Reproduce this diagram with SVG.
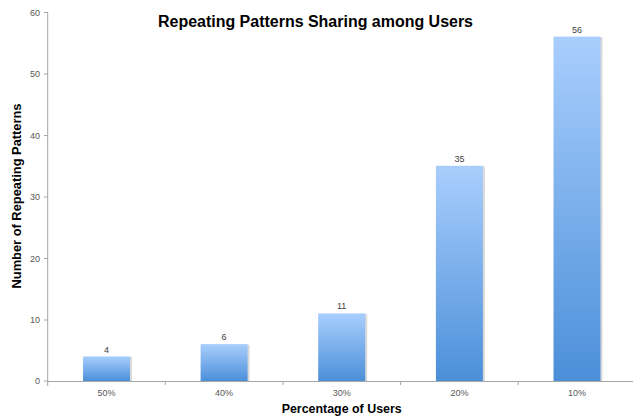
<svg xmlns="http://www.w3.org/2000/svg" width="633" height="418" viewBox="0 0 633 418">
<defs>
<linearGradient id="barGrad" x1="0" y1="0" x2="0" y2="1">
<stop offset="0" stop-color="#A9CEFD"/>
<stop offset="1" stop-color="#4B8FD9"/>
</linearGradient>
<style>
.axis{stroke:#A6A6A6;stroke-width:1;fill:none}
.tick{font-family:"Liberation Sans",Arial,sans-serif;font-size:9px;fill:#595959}
.val{font-family:"Liberation Sans",Arial,sans-serif;font-size:9px;fill:#404040;text-anchor:middle}
.title{font-family:"Liberation Sans",Arial,sans-serif;font-weight:bold;fill:#000}
.bar{fill:url(#barGrad)}
.shadow{fill:#D9D9D9}
</style>
</defs>
<rect width="633" height="418" fill="#FFFFFF"/>
<text class="title" x="315.5" y="27" font-size="16" text-anchor="middle" textLength="315" lengthAdjust="spacingAndGlyphs">Repeating Patterns Sharing among Users</text>
<g id="axes">
<path class="axis" d="M47.7,12 V386 M44,12.5 H47.7 M44,74 H47.7 M44,135.5 H47.7 M44,197 H47.7 M44,258.5 H47.7 M44,320 H47.7 M44,381 H47.7"/>
<path class="axis" d="M47.7,381.5 H633 M165.3,381 V385 M283,381 V385 M400.6,381 V385 M518.2,381 V385"/>
<g class="tick" text-anchor="end">
<text x="40" y="15.5">60</text>
<text x="40" y="77">50</text>
<text x="40" y="138.5">40</text>
<text x="40" y="200">30</text>
<text x="40" y="261.5">20</text>
<text x="40" y="323">10</text>
<text x="40" y="384">0</text>
</g>
<g class="tick" text-anchor="middle">
<text x="106.5" y="396">50%</text>
<text x="224.1" y="396">40%</text>
<text x="341.7" y="396">30%</text>
<text x="459.4" y="396">20%</text>
<text x="577" y="396">10%</text>
</g>
</g>
<g id="bar-50">
<rect class="shadow" x="84" y="357" width="48" height="24"/>
<rect class="bar" x="83" y="356.4" width="47" height="24.6"/>
<text class="val" x="106.5" y="352.5">4</text>
</g>
<g id="bar-40">
<rect class="shadow" x="201.6" y="344.7" width="48" height="36.3"/>
<rect class="bar" x="200.6" y="344.1" width="47" height="36.9"/>
<text class="val" x="224.1" y="340.2">6</text>
</g>
<g id="bar-30">
<rect class="shadow" x="319.2" y="314" width="48" height="67"/>
<rect class="bar" x="318.2" y="313.4" width="47" height="67.6"/>
<text class="val" x="341.7" y="309.4">11</text>
</g>
<g id="bar-20">
<rect class="shadow" x="436.9" y="166.4" width="48" height="214.6"/>
<rect class="bar" x="435.9" y="165.8" width="47" height="215.2"/>
<text class="val" x="459.4" y="161.8">35</text>
</g>
<g id="bar-10">
<rect class="shadow" x="554.5" y="37.2" width="48" height="343.8"/>
<rect class="bar" x="553.5" y="36.6" width="47" height="344.4"/>
<text class="val" x="577" y="32.6">56</text>
</g>
<text class="title" x="341.7" y="413" font-size="13" text-anchor="middle" textLength="120" lengthAdjust="spacingAndGlyphs">Percentage of Users</text>
<text class="title" transform="translate(21,196) rotate(-90)" x="0" y="0" font-size="13" text-anchor="middle" textLength="185" lengthAdjust="spacingAndGlyphs">Number of Repeating Patterns</text>
</svg>
